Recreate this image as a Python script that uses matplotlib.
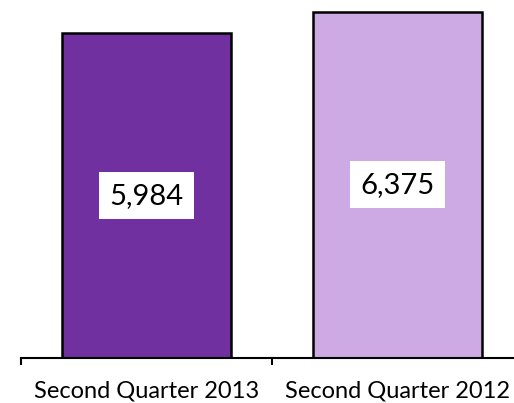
import matplotlib.pyplot as plt

categories = ["Second Quarter 2013", "Second Quarter 2012"]
values = [5984, 6375]
colors = ["#7030A0", "#CDAAE3"]

plt.rcParams['font.family'] = ['Lato', 'DejaVu Sans']

fig = plt.figure(figsize=(5.14, 4.03), dpi=100)
# plot area runs off the top and right edge of the picture (cropped chart)
ax = fig.add_axes([21 / 514, 45 / 403, 502 / 514, 358 / 403])

x = list(range(len(categories)))
ax.bar(x, values, width=0.67, color=colors, edgecolor="black", linewidth=1.8)

for xi, v in zip(x, values):
    ax.text(xi, v / 2, f"{v:,}", ha="center", va="center", fontsize=21,
            bbox=dict(facecolor="white", edgecolor="none", boxstyle="square,pad=0.36"))

ax.set_xlim(-0.5, 1.5)
ax.set_ylim(0, 6594)

for s in ["top", "right", "left"]:
    ax.spines[s].set_visible(False)
ax.spines["bottom"].set_linewidth(1.5)
ax.set_yticks([])

ax.set_xticks([-0.5, 0.5, 1.5])
ax.set_xticklabels([])
ax.tick_params(axis="x", which="major", length=5, width=1.5, direction="out")
ax.set_xticks(x, minor=True)
ax.set_xticklabels(categories, minor=True, fontsize=17)
ax.tick_params(axis="x", which="minor", length=0, pad=16)

fig.savefig("out.png", dpi=100)
